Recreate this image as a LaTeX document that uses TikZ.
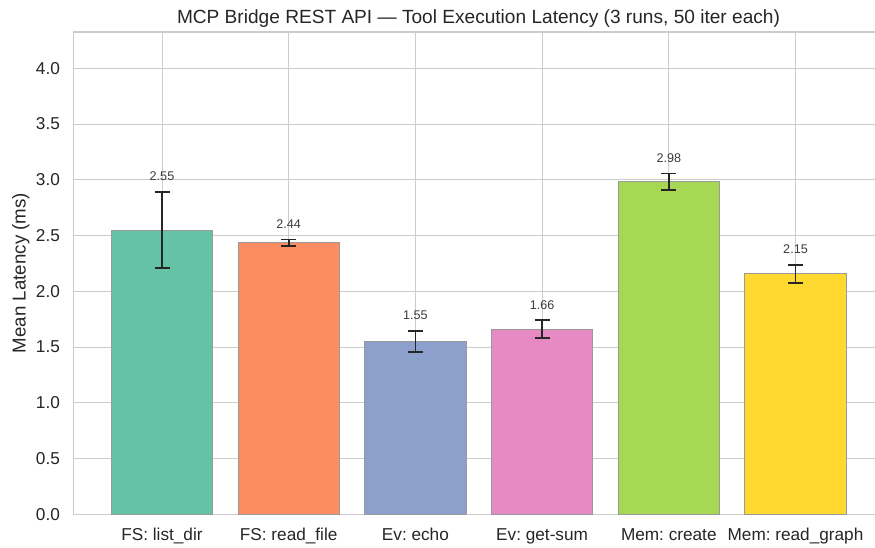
\documentclass[tikz,border=0pt]{standalone}
\usepackage{fontspec}
\setmainfont{Liberation Sans}
\frenchspacing
\definecolor{txt}{HTML}{262626}
\definecolor{gridc}{HTML}{CCCCCC}
\definecolor{edgec}{HTML}{9A9A9A}
\definecolor{cA}{HTML}{66C2A5}
\definecolor{cB}{HTML}{FC8D62}
\definecolor{cC}{HTML}{8DA0CB}
\definecolor{cD}{HTML}{E78AC3}
\definecolor{cE}{HTML}{A6D854}
\definecolor{cF}{HTML}{FFD92F}
\tikzset{
  gridline/.style={draw=gridc, line width=1pt},
  spine/.style={draw=gridc, line width=1.3pt},
  barbox/.style={draw=edgec, line width=0.9pt},
  errbar/.style={draw=txt, line width=1.6pt},
  ytick/.style={anchor=east, inner sep=0pt, text=txt, font=\fontsize{17.2}{20}\selectfont},
  xtick/.style={anchor=base, inner sep=0pt, text=txt, font=\fontsize{17.2}{20}\selectfont},
  vallabel/.style={anchor=base, inner sep=0pt, text=txt!90, font=\fontsize{12.6}{15}\selectfont},
  axlabel/.style={inner sep=0pt, text=txt, font=\fontsize{18.7}{22}\selectfont},
  titlelabel/.style={inner sep=0pt, text=txt, font=\fontsize{19.1}{22}\selectfont},
}
\begin{document}
\begin{tikzpicture}[x=1pt,y=1pt]
\useasboundingbox[fill=white] (0,0) rectangle (875,548);
% title and axis label
\node[titlelabel, anchor=base] (title) at (478.5,524) {MCP Bridge REST API — Tool Execution Latency (3 runs, 50 iter each)};
\node[axlabel, anchor=base, rotate=90] (ylab) at (25.5,275) {Mean Latency (ms)};
% data area: x = bar index, y = latency in ms
\begin{scope}[x=126.7pt, y=111.5pt, shift={(162pt,33.7pt)}]
  % horizontal grid and y ticks
  \foreach \v in {0.5,1,1.5,2,2.5,3,3.5,4}{
    \draw[gridline] (-0.698,\v) -- (5.627,\v);
  }
  \foreach \v/\t [count=\k] in {0/0.0,0.5/0.5,1/1.0,1.5/1.5,2/2.0,2.5/2.5,3/3.0,3.5/3.5,4/4.0}{
    \node[ytick] (yt\k) at ([xshift=-13.5pt]-0.698,\v) {\t};
  }
  % vertical grid
  \foreach \i in {0,...,5}{
    \draw[gridline] (\i,0) -- (\i,4.325);
  }
  % spines
  \draw[spine] (5.627,0) -- (-0.698,0) -- (-0.698,4.325) -- (5.627,4.325);
  % bars, error bars and value labels
  \foreach \i/\m/\e/\c/\lab/\name in {
      0/2.55/0.343/cA/2.55/FS: list\_dir,
      1/2.436/0.029/cB/2.44/FS: read\_file,
      2/1.552/0.094/cC/1.55/Ev: echo,
      3/1.662/0.080/cD/1.66/Ev: get-sum,
      4/2.983/0.075/cE/2.98/Mem: create,
      5/2.157/0.080/cF/2.15/Mem: read\_graph}{
    \draw[barbox, fill=\c] (\i-0.4,0) rectangle (\i+0.4,\m);
    \coordinate (lo\i) at (\i,\m-\e);
    \coordinate (hi\i) at (\i,\m+\e);
    \draw[errbar] (lo\i) -- (hi\i);
    \draw[errbar] ([xshift=-7.5pt]lo\i) -- ([xshift=7.5pt]lo\i);
    \draw[errbar] ([xshift=-7.5pt]hi\i) -- ([xshift=7.5pt]hi\i);
    \node[vallabel] (val\i) at ([yshift=11pt]hi\i) {\lab};
    \node[xtick] (xt\i) at ([yshift=-26.4pt]\i,0) {\name};
  }
\end{scope}
\end{tikzpicture}
\end{document}
